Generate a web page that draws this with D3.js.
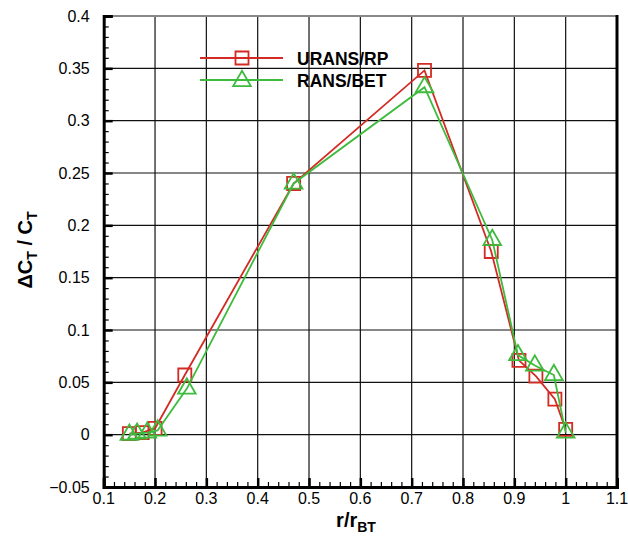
<!DOCTYPE html>
<html>
<head>
<meta charset="utf-8">
<script src="https://cdn.jsdelivr.net/npm/d3@7"></script>
<style>
  body { margin: 0; background: #fff; }
  svg { font-family: "Liberation Sans", Arial, sans-serif; }
</style>
</head>
<body>
<svg id="chart" width="628" height="536"></svg>
<script>
// series
let uransX = [0.15, 0.175, 0.2, 0.258, 0.47, 0.725, 0.855, 0.909, 0.942, 0.979, 1.0],
    uransY = [0.001, 0.002, 0.006, 0.057, 0.240, 0.348, 0.175, 0.071, 0.056, 0.034, 0.005];
let ransX = [0.15, 0.165, 0.185, 0.205, 0.262, 0.47, 0.725, 0.857, 0.907, 0.94, 0.977, 1.0],
    ransY = [0.0, 0.001, 0.002, 0.004, 0.044, 0.240, 0.332, 0.186, 0.076, 0.066, 0.057, 0.002];

let xTicks = [0.1, 0.2, 0.3, 0.4, 0.5, 0.6, 0.7, 0.8, 0.9, 1, 1.1],
    yTicks = [-0.05, 0, 0.05, 0.1, 0.15, 0.2, 0.25, 0.3, 0.35, 0.4];
let seriesNames = ["URANS/RP", "RANS/BET"];

let svg = d3.select("#chart");
let red = "#d42a24", green = "#3dbb3d";

let x = d3.scaleLinear().domain([0.1, 1.1]).range([103.7, 617]),
    y = d3.scaleLinear().domain([-0.05, 0.4]).range([487, 16]);

// grid
svg.append("g").selectAll("line")
  .data(xTicks.slice(1, -1))
  .enter().append("line")
    .attr("x1", d => x(d)).attr("x2", d => x(d))
    .attr("y1", y(0.4)).attr("y2", y(-0.05))
    .attr("stroke", "#111").attr("stroke-width", 1.2);
svg.append("g").selectAll("line")
  .data(yTicks.slice(1, -1))
  .enter().append("line")
    .attr("x1", x(0.1)).attr("x2", x(1.1))
    .attr("y1", d => y(d)).attr("y2", d => y(d))
    .attr("stroke", "#111").attr("stroke-width", 1.2);

// frame: top thin, right thick
svg.append("line").attr("x1", x(0.1)).attr("x2", x(1.1)).attr("y1", y(0.4)).attr("y2", y(0.4))
  .attr("stroke", "#888").attr("stroke-width", 2);
svg.append("line").attr("x1", x(1.1)).attr("x2", x(1.1)).attr("y1", y(0.4) - 1).attr("y2", y(-0.05))
  .attr("stroke", "#000").attr("stroke-width", 3);

// bottom axis, ticks pointing inward
let xAxis = svg.append("g").attr("transform", "translate(0," + y(-0.05) + ")");
xAxis.append("g")
  .call(d3.axisTop(x).ticks(50).tickSize(5).tickFormat(""))
  .call(g => g.select(".domain").remove())
  .selectAll("line").attr("stroke-width", 1.2);
xAxis.append("g")
  .call(d3.axisTop(x).tickValues(xTicks).tickSize(9).tickFormat(""))
  .call(g => g.select(".domain").attr("stroke-width", 3))
  .selectAll("line").attr("stroke-width", 2.5);
xAxis.selectAll(".xlab")
  .data(xTicks)
  .enter().append("text")
    .attr("x", d => x(d)).attr("y", 17)
    .attr("text-anchor", "middle")
    .attr("font-size", 16)
    .text(d => d3.format("~g")(d));

// left axis, ticks pointing inward
let yAxis = svg.append("g").attr("transform", "translate(" + x(0.1) + ",0)");
yAxis.append("g")
  .call(d3.axisRight(y).ticks(45).tickSize(5).tickFormat(""))
  .call(g => g.select(".domain").remove())
  .selectAll("line").attr("stroke-width", 1.2);
yAxis.append("g")
  .call(d3.axisRight(y).tickValues(yTicks).tickSize(9).tickFormat(""))
  .call(g => g.select(".domain").attr("stroke-width", 3))
  .selectAll("line").attr("stroke-width", 2.5);
yAxis.selectAll(".ylab")
  .data(yTicks)
  .enter().append("text")
    .attr("x", -14).attr("y", d => y(d) + 5.5)
    .attr("text-anchor", "end")
    .attr("font-size", 16)
    .text(d => d3.format("~g")(d));

// axis titles
let xt = svg.append("text")
  .attr("x", 356).attr("y", 527)
  .attr("text-anchor", "middle")
  .attr("font-size", 20).attr("font-weight", "bold");
xt.append("tspan").text("r/r");
xt.append("tspan").attr("font-size", 14).attr("dy", 5).text("BT");

let yt = svg.append("text")
  .attr("transform", "translate(32,250) rotate(-90)")
  .attr("text-anchor", "middle")
  .attr("font-size", 20).attr("font-weight", "bold");
yt.append("tspan").text("\u0394C");
yt.append("tspan").attr("font-size", 14).attr("dy", 5).text("T");
yt.append("tspan").attr("dy", -5).text(" / C");
yt.append("tspan").attr("font-size", 14).attr("dy", 5).text("T");

// series
let line = d3.line().x(d => x(d[0])).y(d => y(d[1]));
let uransPts = d3.zip(uransX, uransY),
    ransPts = d3.zip(ransX, ransY);

let square = d3.symbol().type(d3.symbolSquare).size(170),
    triangle = d3.symbol().type(d3.symbolTriangle).size(135);

function drawSeries(pts, color, sym) {
  svg.append("path")
    .attr("d", line(pts))
    .attr("fill", "none").attr("stroke", color).attr("stroke-width", 1.8);
  svg.append("g").selectAll("path")
    .data(pts)
    .enter().append("path")
      .attr("d", sym)
      .attr("transform", d => "translate(" + x(d[0]) + "," + y(d[1]) + ")")
      .attr("fill", "none").attr("stroke", color).attr("stroke-width", 1.8);
}
drawSeries(uransPts, red, square);
drawSeries(ransPts, green, triangle);

// legend
let legend = svg.append("g").attr("transform", "translate(200,58)");
[[red, square], [green, triangle]].forEach(function(s, i) {
  let g = legend.append("g").attr("transform", "translate(0," + i * 22 + ")");
  g.append("line").attr("x1", 0).attr("x2", 83)
    .attr("stroke", s[0]).attr("stroke-width", 1.8);
  g.append("path").attr("d", s[1]).attr("transform", "translate(42," + (i ? 1 : 0) + ")")
    .attr("fill", "none").attr("stroke", s[0]).attr("stroke-width", 1.8);
  g.append("text").attr("x", 97).attr("y", 6.5)
    .attr("font-size", 17.5).attr("font-weight", "bold")
    .text(seriesNames[i]);
});
</script>
</body>
</html>
